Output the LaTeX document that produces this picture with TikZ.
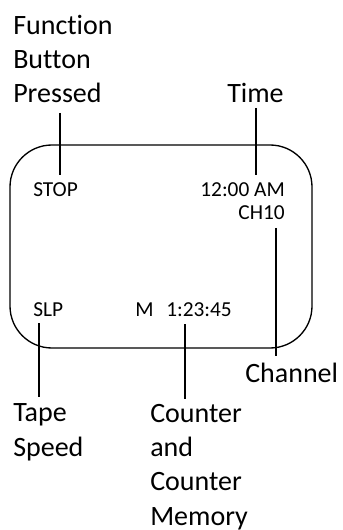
\documentclass[tikz,border=0pt]{standalone}
\usepackage{fontspec}
\setmainfont{Carlito}[Ligatures=NoCommon]
\begin{document}
\begin{tikzpicture}[x=0.75pt, y=-0.75pt,
					screen/.style={rectangle,
					rounded corners=31.5pt,
					line width=1pt,
					minimum width=226.5pt,
					minimum height=152.25pt,
					draw=black},
					readout/.style={inner sep=0pt,
					font=\fontsize{16}{19}\selectfont},
					callout/.style={inner sep=0pt,
					align=left,
					font=\fontsize{21}{25.7}\selectfont},
					lead/.style={line width=2.2pt, black}
					]

% keep the margins of the picture
\useasboundingbox (0,0) rectangle (342,530);

% the display
\node[screen] (display) at (161,246.5) {};

% what the display shows
\node[readout, anchor=base west] (stop) at (33,197) {STOP};
\node[readout, anchor=base east] (clock) at (285,197) {12:00 AM};
\node[readout, anchor=base east] (ch) at (285,220) {CH10};
\node[readout, anchor=base west] (slp) at (33,316) {SLP};
\node[readout, anchor=base west] (mem) at (135,316) {M};
\node[readout, anchor=base west] (count) at (166,316) {1:23:45};

% labels (base is the last line)
\node[callout, anchor=base west] (funclbl) at (13,103) {Function\\Button\\Pressed};
\node[callout, anchor=base west] (timelbl) at (227,103) {Time};
\node[callout, anchor=base west] (chlbl) at (245,382) {Channel};
\node[callout, anchor=base west] (tapelbl) at (13,456) {Tape\\Speed};
\node[callout, anchor=base west] (countlbl) at (150,525) {Counter\\and\\Counter\\Memory};

% ends of the lines
\coordinate (func_a) at (60,113);
\coordinate (func_b) at (60,175);
\coordinate (time_a) at (256,108);
\coordinate (time_b) at (256,175);
\coordinate (ch_a) at (276,228);
\coordinate (ch_b) at (276,356);
\coordinate (tape_a) at (39,323);
\coordinate (tape_b) at (39,397);
\coordinate (count_a) at (185,324);
\coordinate (count_b) at (185,399);

% Lines
\draw[lead] (func_a) -- (func_b);
\draw[lead] (time_a) -- (time_b);
\draw[lead] (ch_a) -- (ch_b);
\draw[lead] (tape_a) -- (tape_b);
\draw[lead] (count_a) -- (count_b);

\end{tikzpicture}
\end{document}
